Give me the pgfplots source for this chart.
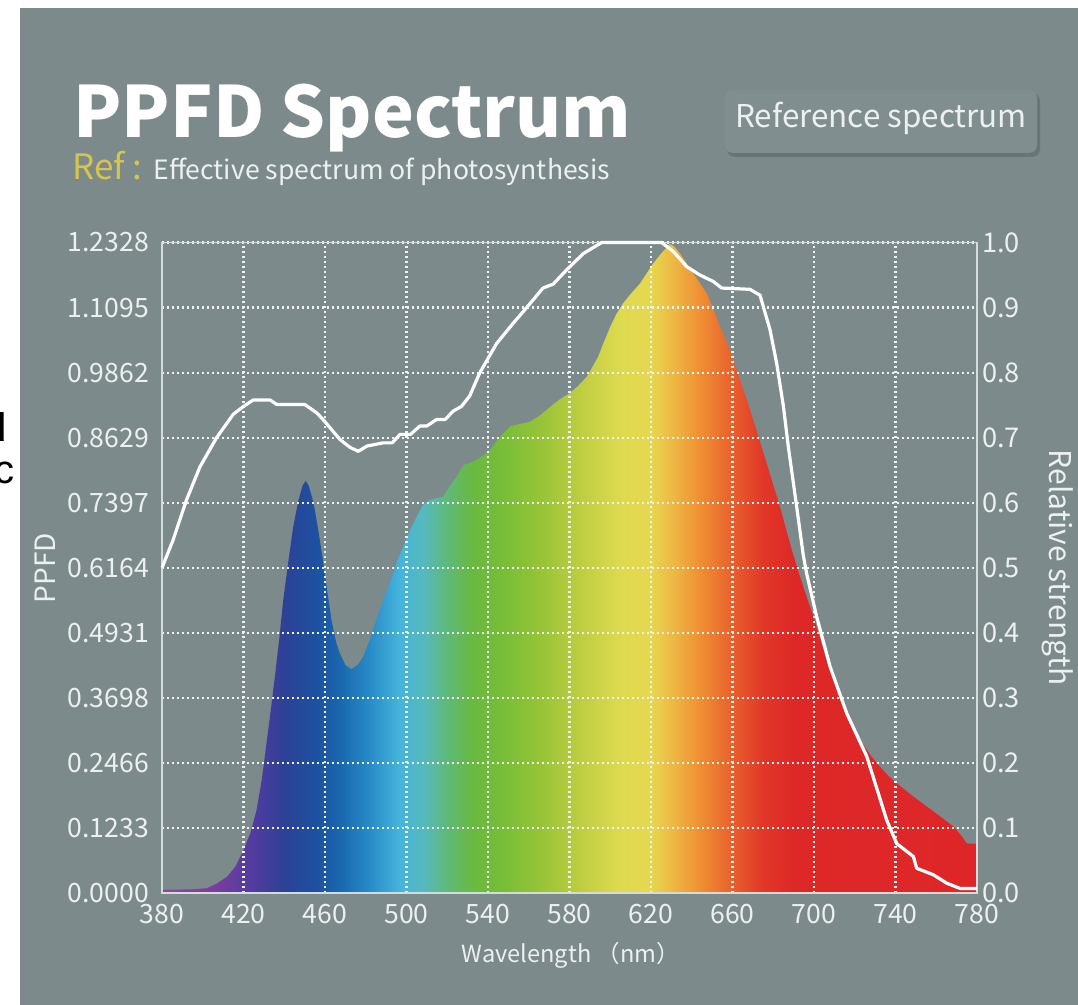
\documentclass[border=0pt]{standalone}
\usepackage{pgfplots}
\usepackage{pgfplotstable}
\pgfplotsset{compat=1.18}
\usepackage{fontspec}
\setmainfont{Noto Sans CJK SC}
\newfontfamily\arialfont{Liberation Sans}

\definecolor{bgcol}{RGB}{124,138,140}
\definecolor{boxcol}{RGB}{129,142,144}
\definecolor{shadowcol}{RGB}{104,116,118}
\definecolor{framecol}{RGB}{212,219,219}
\definecolor{gridcol}{RGB}{240,243,243}
\definecolor{labelcol}{RGB}{236,240,240}
\definecolor{refcol}{RGB}{214,196,76}

\definecolor{s380}{RGB}{150,65,160}
\definecolor{s405}{RGB}{125,60,160}
\definecolor{s425}{RGB}{80,60,160}
\definecolor{s440}{RGB}{45,65,150}
\definecolor{s455}{RGB}{30,80,160}
\definecolor{s468}{RGB}{25,105,175}
\definecolor{s482}{RGB}{40,140,200}
\definecolor{s497}{RGB}{70,180,220}
\definecolor{s508}{RGB}{85,185,190}
\definecolor{s520}{RGB}{95,185,120}
\definecolor{s532}{RGB}{105,185,65}
\definecolor{s548}{RGB}{120,190,55}
\definecolor{s565}{RGB}{150,195,55}
\definecolor{s585}{RGB}{190,205,65}
\definecolor{s605}{RGB}{222,218,80}
\definecolor{s620}{RGB}{230,215,80}
\definecolor{s632}{RGB}{238,180,65}
\definecolor{s645}{RGB}{238,140,50}
\definecolor{s660}{RGB}{232,95,45}
\definecolor{s675}{RGB}{225,55,40}
\definecolor{s690}{RGB}{222,40,40}
\definecolor{s780}{RGB}{222,38,40}

% position (bp) = 25 + (nm-380)/8
\pgfdeclarehorizontalshading{spectrum}{100bp}{%
color(0bp)=(s380); color(25bp)=(s380); color(28.125bp)=(s405);
color(30.625bp)=(s425); color(32.5bp)=(s440); color(34.375bp)=(s455);
color(36bp)=(s468); color(37.75bp)=(s482); color(39.625bp)=(s497);
color(41bp)=(s508); color(42.5bp)=(s520); color(44bp)=(s532);
color(46bp)=(s548); color(48.125bp)=(s565); color(50.625bp)=(s585);
color(53.125bp)=(s605); color(55bp)=(s620); color(56.5bp)=(s632);
color(58.125bp)=(s645); color(60bp)=(s660); color(61.875bp)=(s675);
color(63.75bp)=(s690); color(75bp)=(s780); color(100bp)=(s780)}

\pgfplotstableread{
nm ppfd
380 0.006
395 0.007
402 0.009
407 0.018
412 0.031
416 0.050
420 0.081
423.5 0.115
426.4 0.157
429 0.215
431.3 0.284
433.5 0.350
435.4 0.410
437.5 0.480
439.5 0.555
442 0.628
444.4 0.694
447 0.745
449 0.772
450.5 0.781
452 0.772
454 0.745
455 0.726
457 0.680
459 0.631
461 0.575
463.2 0.517
465.5 0.475
467.3 0.454
470 0.432
473 0.424
476 0.432
478.8 0.448
482 0.480
485 0.515
488.6 0.555
492 0.590
495 0.625
498.4 0.656
502 0.690
505 0.713
508 0.735
511.5 0.745
518 0.751
521 0.770
524.6 0.789
528 0.811
531 0.815
534.4 0.821
538 0.830
541 0.840
546 0.865
550.8 0.884
556 0.889
560.6 0.893
565.5 0.905
570.4 0.921
575 0.935
580 0.947
584 0.960
588.4 0.978
591 0.995
594 1.016
597 1.045
600 1.073
603 1.097
606.4 1.118
610 1.135
614.6 1.155
618 1.175
621.1 1.193
625 1.212
629.3 1.230
631.5 1.225
634.2 1.212
637.5 1.193
640.8 1.174
644 1.156
647.3 1.137
650.5 1.108
653.9 1.073
656.5 1.050
658.8 1.029
661 1.003
663.7 0.972
667 0.935
670.2 0.896
673.5 0.855
676.8 0.814
680 0.773
683.3 0.732
686.6 0.685
689.5 0.645
693.1 0.600
696.5 0.560
699.7 0.524
703 0.482
706.2 0.441
709.5 0.405
712.8 0.372
717.5 0.330
722.6 0.290
727.5 0.262
732.4 0.239
736.5 0.222
740.6 0.208
748 0.185
755.3 0.164
762 0.145
768.4 0.126
772 0.110
775 0.094
780 0.093
}\ppfdtable

\pgfplotstableread{
nm rel
380 0.500
385.5 0.543
392 0.604
398.6 0.655
406.8 0.700
415 0.736
420 0.748
424.8 0.758
433 0.758
436.3 0.751
450 0.751
456 0.738
459 0.728
467.4 0.697
472.3 0.685
476.4 0.679
480.5 0.687
488.6 0.692
493 0.692
496.8 0.705
502 0.705
506.6 0.718
510 0.718
514.8 0.728
519 0.728
523 0.741
527 0.748
531 0.764
536 0.800
544.3 0.845
552.4 0.876
559 0.900
567 0.930
572 0.936
578.6 0.958
586.8 0.983
595.8 1.000
625.2 1.000
631 0.986
637.5 0.963
644 0.950
650.6 0.940
654.7 0.930
668.6 0.928
673.5 0.919
678.4 0.866
681.7 0.814
685 0.748
687.4 0.686
691.5 0.594
694.7 0.520
696.4 0.491
701.3 0.425
707.9 0.348
716.1 0.276
725.9 0.210
735.7 0.112
740.6 0.076
748.8 0.056
750.4 0.038
758.6 0.028
765.2 0.015
771.7 0.007
780 0.007
}\reltable

\begin{document}
\begin{tikzpicture}
\begin{scope}[x=0.5pt,y=-0.5pt]
  \useasboundingbox (0,0) rectangle (1078,1005);
  \fill[white] (0,0) rectangle (1078,1005);
  \fill[bgcol] (20,8) rectangle (1078,1005);
  \begin{scope}
    \clip (0,0) rectangle (20,1005);
    \node[anchor=base east, inner sep=0, text=black, font=\arialfont\bfseries\fontsize{20}{20}\selectfont] at (7,442) {d};
    \node[anchor=base east, inner sep=0, text=black, font=\arialfont\fontsize{20}{20}\selectfont] at (15,484) {c};
  \end{scope}
  % title
  \node[anchor=base west, inner sep=0, text=white, font=\bfseries\fontsize{35.3}{37}\selectfont] at (73,138) {PPFD Spectrum};
  \node[anchor=base west, inner sep=0, text=refcol, font=\fontsize{17.5}{18}\selectfont] at (72,180) {Ref};
  \node[anchor=base west, inner sep=0, text=refcol, font=\fontsize{17.5}{18}\selectfont] at (132,180) {:};
  \node[anchor=base west, inner sep=0, text=labelcol, font=\fontsize{13.3}{15}\selectfont] at (153,180) {Effective spectrum of photosynthesis};
  % box
  \fill[shadowcol, rounded corners=4pt] (727,93) rectangle (1040,157);
  \fill[boxcol, rounded corners=4pt] (725,90) rectangle (1037,153);
  \node[anchor=base, inner sep=0, text=labelcol, font=\fontsize{15.7}{17}\selectfont] at (881,128) {Reference spectrum};
  % axis labels
  \node[rotate=90, inner sep=0, text=labelcol, font=\fontsize{14}{15}\selectfont] at (45,568) {PPFD};
  \node[rotate=-90, inner sep=0, text=labelcol, font=\fontsize{15}{16}\selectfont] at (1058,568) {Relative strength};
  \node[anchor=base, inner sep=0, text=labelcol, font=\fontsize{11.8}{13}\selectfont] at (571,963) {Wavelength （nm）};
\end{scope}

\begin{axis}[
  at={(81pt,-446.5pt)}, anchor=south west,
  width=407.5pt, height=325.25pt, scale only axis,
  xmin=380, xmax=780, ymin=0, ymax=1.2328,
  xtick={380,420,...,780},
  xticklabels={380,420,460,500,540,580,620,660,700,740,780},
  ytick={0,0.1233,0.2466,0.3698,0.4931,0.6164,0.7397,0.8629,0.9862,1.1095,1.2328},
  yticklabels={0.0000,0.1233,0.2466,0.3698,0.4931,0.6164,0.7397,0.8629,0.9862,1.1095,1.2328},
  /pgf/number format/assume math mode=true,
  major tick length=0pt,
  grid=major,
  grid style={gridcol, line width=1.1pt, dash pattern=on 1.1pt off 1.4pt},
  axis line style={framecol, line width=0.6pt},
  tick label style={text=labelcol, font=\fontsize{13.3}{14}\selectfont},
  yticklabel style={xshift=-3pt},
  xticklabel style={yshift=-2pt},
  axis on top,
]
\addplot[draw=none, shading=spectrum] table[x=nm, y=ppfd] {\ppfdtable} \closedcycle;
\end{axis}

\begin{axis}[
  at={(81pt,-446.5pt)}, anchor=south west,
  width=407.5pt, height=325.25pt, scale only axis,
  xmin=380, xmax=780, ymin=0, ymax=1,
  hide x axis,
  axis y line*=right,
  ytick={0,0.1,0.2,0.3,0.4,0.5,0.6,0.7,0.8,0.9,1.0},
  yticklabels={0.0,0.1,0.2,0.3,0.4,0.5,0.6,0.7,0.8,0.9,1.0},
  /pgf/number format/assume math mode=true,
  major tick length=0pt,
  axis line style={draw=none},
  tick label style={text=labelcol, font=\fontsize{13.6}{14}\selectfont},
  yticklabel style={xshift=-1pt},
  clip=false,
]
\addplot[white, line width=1.6pt, line join=round] table[x=nm, y=rel] {\reltable};
\end{axis}
\end{tikzpicture}
\end{document}
